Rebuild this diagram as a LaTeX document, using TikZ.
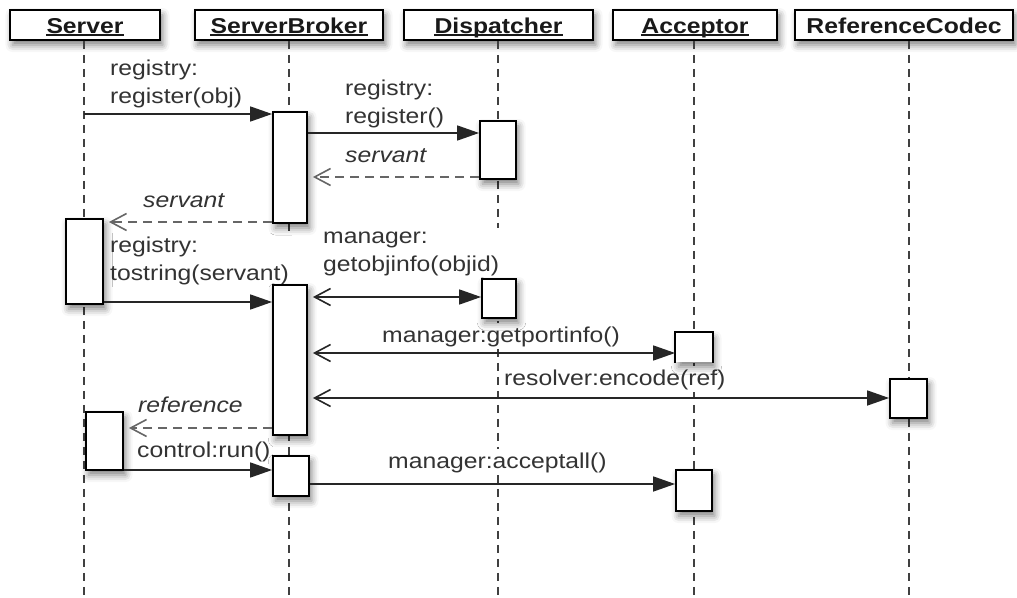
\documentclass[tikz,border=0pt]{standalone}
\usepackage{fontspec}
\setmainfont{Liberation Sans}[FakeStretch=1.15]
\usetikzlibrary{arrows.meta,shadows.blur,calc}

\tikzset{
  softshadow/.style={blur shadow={shadow xshift=2.5pt, shadow yshift=-5pt,
      shadow blur radius=7pt, shadow opacity=50}},
  headbox/.style={draw=black, line width=1.8pt, fill=white, inner sep=0pt,
      minimum height=30pt, softshadow},
  headtext/.style={font=\bfseries\fontsize{21.5}{25}\selectfont, inner sep=0pt,
      anchor=base, text=black!90},
  uline/.style={draw=black!90, line width=1.2pt},
  lifeline/.style={draw=black!75, line width=1.6pt, dash pattern=on 8pt off 6pt},
  act/.style={draw=black, line width=1.8pt, fill=white, inner sep=0pt, softshadow},
  lab/.style={font=\fontsize{21.5}{28}\selectfont, text=black!80, fill=white,
      inner sep=3pt, align=left, anchor=base west},
  ilab/.style={lab, font=\itshape\fontsize{21.5}{28}\selectfont},
  call/.style={draw=black!85, line width=1.6pt,
      -{Triangle[length=22pt,width=15pt]}},
  ret/.style={draw=black!60, line width=1.6pt, dash pattern=on 9pt off 6pt,
      shorten >=5pt, -{Straight Barb[length=16pt,width=17pt]}},
  both/.style={draw=black!85, line width=1.6pt, shorten <=5pt,
      {Straight Barb[length=16pt,width=17pt]}-{Triangle[length=22pt,width=15pt]}},
}

\begin{document}
\begin{tikzpicture}[x=1pt,y=-1pt]
\useasboundingbox (0,0) rectangle (1017,597);

% object headers
\node[headbox, minimum width=150pt] (srvH) at (85,25) {};
\node[headbox, minimum width=188pt] (sbH)  at (289,25) {};
\node[headbox, minimum width=189pt] (dspH) at (498.5,25) {};
\node[headbox, minimum width=164pt] (accH) at (695,25) {};
\node[headbox, minimum width=218pt] (rcH)  at (904,25) {};

\node[headtext] (srvT) at (85,33) {Server};
\node[headtext] (sbT)  at (289,33) {ServerBroker};
\node[headtext] (dspT) at (498.5,33) {Dispatcher};
\node[headtext] (accT) at (695,33) {Acceptor};
\node[headtext] (rcT)  at (904,33) {ReferenceCodec};

\foreach \t in {srvT,sbT,dspT,accT}
  \draw[uline] ([yshift=-2pt]\t.base west) -- ([yshift=-2pt]\t.base east);

% lifelines
\coordinate (srvEnd) at (84,597);
\coordinate (sbEnd)  at (289,597);
\coordinate (dspEnd) at (498,597);
\coordinate (accEnd) at (694,597);
\coordinate (rcEnd)  at (909,597);
\draw[lifeline] (srvEnd |- srvH.south) -- (srvEnd);
\draw[lifeline] (sbEnd |- sbH.south) -- (sbEnd);
\draw[lifeline] (dspEnd |- dspH.south) -- (dspEnd);
\draw[lifeline] (accEnd |- accH.south) -- (accEnd);
\draw[lifeline] (rcEnd |- rcH.south) -- (rcEnd);

% message labels (a two-line label sits on the baseline of its last line)
\node[lab]  (l1)  at (107,103) {registry:\\register(obj)};
\node[lab]  (l2)  at (342,123) {registry:\\register()};
\node[ilab] (l3)  at (342,162) {servant};
\node[ilab] (l4)  at (140,207) {servant};
\node[lab]  (l5)  at (107,280) {registry:\\tostring(servant)};
\node[lab]  (l6)  at (320,271) {manager:\\getobjinfo(objid)};
\node[lab]  (l7)  at (379,342) {manager:getportinfo()};
\node[lab]  (l8)  at (501,385) {resolver:encode(ref)};
\node[ilab] (l9)  at (135,412) {reference};
\node[lab]  (l10) at (134,457) {control:run()};
\node[lab]  (l11) at (385,468) {manager:acceptall()};

% activation boxes
\node[act, minimum width=34pt, minimum height=111pt] (sb1) at (290,167.5) {};
\node[act, minimum width=36pt, minimum height=58pt]  (d1)  at (498,150) {};
\node[act, minimum width=37pt, minimum height=85pt]  (s1)  at (84.5,261.5) {};
\node[act, minimum width=34pt, minimum height=150pt] (sb2) at (290,360) {};
\node[act, minimum width=34pt, minimum height=39pt]  (d2)  at (499,298.5) {};
\node[act, draw=none, minimum width=36pt, minimum height=29pt] (a1) at (694,347.5) {};
\draw[line width=1.8pt] (a1.south west) -- (a1.north west) -- (a1.north east) -- (a1.south east);
\node[act, minimum width=37pt, minimum height=39pt]  (rc)  at (908.5,398.5) {};
\node[act, minimum width=37pt, minimum height=58pt]  (s2)  at (104.5,441) {};
\node[act, minimum width=36pt, minimum height=40pt]  (sb3) at (291,476) {};
\node[act, minimum width=36pt, minimum height=41pt]  (a2)  at (694,490.5) {};

% message rows
\coordinate (y1)  at (0,114);
\coordinate (y2)  at (0,133);
\coordinate (y3)  at (0,177);
\coordinate (y4)  at (0,222);
\coordinate (y5)  at (0,302);
\coordinate (y6)  at (0,297);
\coordinate (y7)  at (0,353);
\coordinate (y8)  at (0,398);
\coordinate (y9)  at (0,428);
\coordinate (y10) at (0,470);
\coordinate (y11) at (0,484);

% messages
\draw[call] (srvEnd |- y1) -- (sb1.west |- y1);
\draw[call] (sb1.east |- y2) -- (d1.west |- y2);
\draw[ret]  (d1.west |- y3) -- (sb1.east |- y3);
\draw[ret]  (sb1.west |- y4) -- (s1.east |- y4);
\draw[call] (s1.east |- y5) -- (sb2.west |- y5);
\draw[both] (sb2.east |- y6) -- (d2.west |- y6);
\draw[both] (sb2.east |- y7) -- (a1.west |- y7);
\draw[both] (sb2.east |- y8) -- (rc.west |- y8);
\draw[ret]  (sb2.west |- y9) -- (s2.east |- y9);
\draw[call] (s2.east |- y10) -- (sb3.west |- y10);
\draw[call] (sb3.east |- y11) -- (a2.west |- y11);
\end{tikzpicture}
\end{document}
